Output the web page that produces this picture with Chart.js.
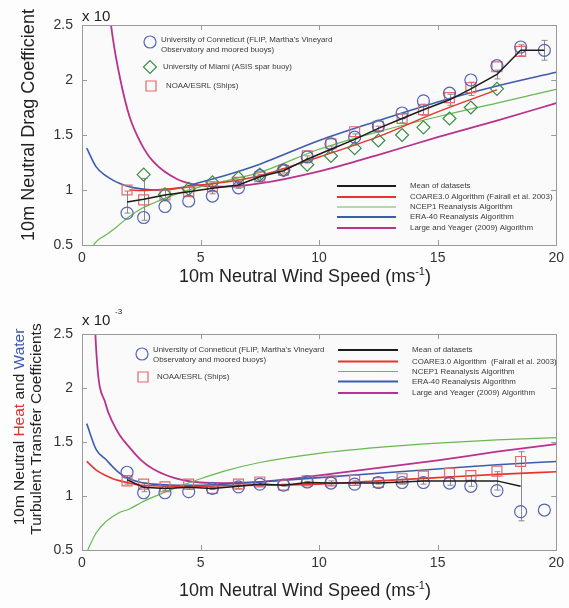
<!DOCTYPE html>
<html>
<head>
<meta charset="utf-8">
<script src="https://cdn.jsdelivr.net/npm/chart.js@4.4.0/dist/chart.umd.min.js"></script>
<style>
body { margin: 0; background: #fdfdfd; }
#wrap { position: relative; width: 569px; height: 608px; }
canvas { position: absolute; left: 0; }
#dragChart { top: 0; }
#heatChart { top: 300px; }
</style>
</head>
<body>
<div id="wrap">
<canvas id="dragChart" width="569" height="300"></canvas>
<canvas id="heatChart" width="569" height="308"></canvas>
</div>
<script>
// wind speed bins of the measured datasets (m/s)
var bins = [1.9, 2.6, 3.5, 4.5, 5.5, 6.6, 7.5, 8.5, 9.5, 10.5, 11.5, 12.5, 13.5, 14.4, 15.5, 16.4, 17.5, 18.5, 19.5];
// wind speeds where the algorithm curves are read
var curveSpeeds = [0.2, 0.6, 1, 1.3, 1.6, 2, 2.5, 3, 4, 5, 6, 7.5, 10, 12.5, 15, 17.5, 20];
var xTicks = [0, 5, 10, 15, 20];
var yTicks = [0.5, 1, 1.5, 2, 2.5];

// drag coefficient (x 10^-3)
var dragUconn = [0.79, 0.75, 0.85, 0.90, 0.945, 1.02, 1.13, 1.18, 1.30, 1.42, 1.48, 1.58, 1.70, 1.81, 1.88, 2.00, 2.13, 2.30, 2.27];
var dragMiami = [null, 1.14, 0.96, 1.01, 1.07, 1.11, 1.14, 1.18, 1.23, 1.31, 1.38, 1.45, 1.50, 1.57, 1.65, 1.75, 1.92, null, null];
var dragNoaa = [1.00, 0.91, 0.955, 0.985, 1.03, 1.07, 1.12, 1.18, 1.31, 1.42, 1.53, 1.58, 1.65, 1.73, 1.84, 1.93, 2.12, 2.26, null];
var dragMean = [0.89, 0.915, 0.955, 0.985, 1.015, 1.045, 1.12, 1.175, 1.28, 1.37, 1.46, 1.56, 1.65, 1.73, 1.82, 1.92, 2.05, 2.27, 2.27];
var dragMeanErr = [0.1, 0.19, 0.05, 0.04, 0.05, 0.03, 0.02, 0.02, 0.03, 0.03, 0.05, 0.02, 0.04, 0.05, 0.05, 0.06, 0.04, 0.05, 0.09];
var dragCoare = [null, null, null, null, null, 1.0, 0.995, 1.0, 1.015, 1.045, 1.07, 1.13, 1.30, 1.485, 1.71, 1.91, null];
var dragNcep = [0.40, 0.53, 0.59, 0.636, 0.69, 0.76, 0.83, 0.88, 0.965, 1.03, 1.08, 1.16, 1.37, 1.53, 1.666, 1.79, 1.915];
var dragEra = [1.38, 1.21, 1.13, 1.09, 1.06, 1.03, 1.01, 1.0, 1.015, 1.07, 1.13, 1.235, 1.45, 1.63, 1.80, 1.945, 2.07];
var dragLy = [null, null, 2.9, 2.38, 2.02, 1.67, 1.42, 1.26, 1.10, 1.04, 1.03, 1.06, 1.17, 1.32, 1.48, 1.63, 1.79];

// heat and water transfer coefficients (x 10^-3)
var heatUconn = [1.22, 1.03, 1.03, 1.04, 1.07, 1.085, 1.11, 1.10, 1.13, 1.12, 1.11, 1.125, 1.125, 1.125, 1.12, 1.09, 1.05, 0.855, 0.87];
var heatNoaa = [1.14, 1.11, 1.085, 1.11, 1.07, 1.11, 1.13, 1.10, 1.14, 1.14, 1.145, 1.125, 1.16, 1.185, 1.21, 1.19, 1.23, 1.32, null];
var heatMean = [1.15, 1.08, 1.07, 1.08, 1.07, 1.09, 1.11, 1.10, 1.125, 1.12, 1.12, 1.12, 1.13, 1.14, 1.14, 1.14, 1.14, 1.09, null];
var heatMeanErr = [0.04, 0.04, 0.02, 0.02, 0.01, 0.02, 0.02, 0.01, 0.01, 0.02, 0.02, 0.01, 0.02, 0.03, 0.04, 0.05, 0.085, 0.32, 0];
var heatCoare = [1.32, 1.24, 1.19, 1.16, 1.14, 1.12, 1.10, 1.095, 1.09, 1.09, 1.095, 1.10, 1.11, 1.14, 1.17, 1.20, 1.225];
var heatNcep = [0.48, 0.66, 0.76, 0.81, 0.85, 0.88, 0.94, 0.99, 1.08, 1.16, 1.23, 1.31, 1.395, 1.45, 1.49, 1.52, 1.54];
var heatEra = [1.67, 1.43, 1.34, 1.27, 1.21, 1.16, 1.125, 1.11, 1.10, 1.10, 1.11, 1.13, 1.17, 1.21, 1.25, 1.29, 1.32];
var heatLy = [4.8, 2.35, 1.85, 1.68, 1.56, 1.45, 1.33, 1.25, 1.16, 1.125, 1.12, 1.13, 1.19, 1.26, 1.33, 1.41, 1.48];

var fontFamily = "'Liberation Sans', Arial, 'DejaVu Sans', sans-serif";
var black = '#1c1c1c', red = '#e8352b', green = '#66b952', blue = '#3d5cb0', magenta = '#b8328e';
var circleColor = '#5565b3', diamondColor = '#3b8d47', squareColor = '#e26a68';

Chart.defaults.font.family = fontFamily;

function points(xs, ys) {
	var out = [];
	for (var i = 0; i < xs.length; i++) out.push({ x: xs[i], y: ys[i] });
	return out;
}

function lineSet(xs, ys, color, width, smooth) {
	return {
		data: points(xs, ys), borderColor: color, borderWidth: width, pointRadius: 0,
		fill: false, tension: 0, cubicInterpolationMode: smooth ? 'monotone' : 'default'
	};
}

function markerSet(ys, style, color, radius) {
	return {
		data: points(bins, ys), showLine: false, pointStyle: style, pointRadius: radius,
		pointBorderColor: color, pointBackgroundColor: 'rgba(0,0,0,0)', pointBorderWidth: 1.2
	};
}

function drawMarker(ctx, style, x, y) {
	ctx.save();
	ctx.lineWidth = 1.2;
	ctx.beginPath();
	if (style === 'circle') {
		ctx.strokeStyle = circleColor;
		ctx.arc(x, y, 6, 0, Math.PI * 2);
	} else if (style === 'diamond') {
		ctx.strokeStyle = diamondColor;
		ctx.moveTo(x - 6.5, y); ctx.lineTo(x, y - 6.5); ctx.lineTo(x + 6.5, y); ctx.lineTo(x, y + 6.5); ctx.closePath();
	} else {
		ctx.strokeStyle = squareColor;
		ctx.rect(x - 5, y - 5, 10, 10);
	}
	ctx.stroke();
	ctx.restore();
}

// text pieces drawn one after another, each with its own colour
function drawPieces(ctx, pieces, cx, cy, rotate) {
	ctx.save();
	ctx.translate(cx, cy);
	if (rotate) ctx.rotate(-Math.PI / 2);
	var total = 0;
	pieces.forEach(function(p) { ctx.font = p.font; total += ctx.measureText(p.text).width; });
	var x = -total / 2;
	ctx.textAlign = 'left';
	ctx.textBaseline = 'alphabetic';
	pieces.forEach(function(p) {
		ctx.font = p.font;
		ctx.fillStyle = p.color || '#222';
		ctx.fillText(p.text, x, p.dy || 0);
		x += ctx.measureText(p.text).width;
	});
	ctx.restore();
}

function decorPlugin(cfg) {
	return {
		id: 'decor',
		beforeDraw: function(chart) {
			var ctx = chart.ctx, a = chart.chartArea;
			ctx.save();
			ctx.fillStyle = '#fafafa';
			ctx.fillRect(a.left, a.top, a.right - a.left, a.bottom - a.top);
			ctx.restore();
		},
		beforeDatasetsDraw: function(chart) {
			// error bars of the mean
			var ctx = chart.ctx, xs = chart.scales.x, ys = chart.scales.y;
			ctx.save();
			ctx.strokeStyle = '#8a8a8a';
			ctx.lineWidth = 1;
			for (var i = 0; i < bins.length; i++) {
				if (cfg.mean[i] === null || !cfg.err[i]) continue;
				var x = Math.round(xs.getPixelForValue(bins[i])) + 0.5;
				var y1 = ys.getPixelForValue(cfg.mean[i] - cfg.err[i]);
				var y2 = ys.getPixelForValue(cfg.mean[i] + cfg.err[i]);
				ctx.beginPath();
				ctx.moveTo(x, y1); ctx.lineTo(x, y2);
				ctx.moveTo(x - 3, y1); ctx.lineTo(x + 3, y1);
				ctx.moveTo(x - 3, y2); ctx.lineTo(x + 3, y2);
				ctx.stroke();
			}
			ctx.restore();
		},
		afterDraw: function(chart) {
			var ctx = chart.ctx, a = chart.chartArea, xs = chart.scales.x, ys = chart.scales.y;
			ctx.save();
			// box and inward ticks
			ctx.strokeStyle = '#9a9a9a';
			ctx.lineWidth = 1;
			ctx.strokeRect(Math.round(a.left) + 0.5, Math.round(a.top) + 0.5, Math.round(a.right - a.left), Math.round(a.bottom - a.top));
			ctx.beginPath();
			xTicks.forEach(function(v) {
				var x = Math.round(xs.getPixelForValue(v)) + 0.5;
				ctx.moveTo(x, a.bottom); ctx.lineTo(x, a.bottom - 5);
				ctx.moveTo(x, a.top); ctx.lineTo(x, a.top + 5);
			});
			yTicks.forEach(function(v) {
				var y = Math.round(ys.getPixelForValue(v)) + 0.5;
				ctx.moveTo(a.left, y); ctx.lineTo(a.left + 5, y);
				ctx.moveTo(a.right, y); ctx.lineTo(a.right - 5, y);
			});
			ctx.stroke();

			// exponent label
			ctx.fillStyle = '#222';
			ctx.font = '15px ' + fontFamily;
			ctx.textAlign = 'left';
			ctx.textBaseline = 'alphabetic';
			ctx.fillText('x 10', 82, cfg.expY);
			if (cfg.expSup) {
				ctx.font = '8px ' + fontFamily;
				ctx.fillText(cfg.expSup, 82 + 33, cfg.expY - 11);
			}

			// axis titles
			var big = '18px ' + fontFamily, small = '11px ' + fontFamily;
			drawPieces(ctx, [
				{ text: '10m Neutral Wind Speed (ms', font: big },
				{ text: '-1', font: small, dy: -7 },
				{ text: ')', font: big }
			], 305, cfg.xTitleY, false);
			cfg.yTitle.forEach(function(line) {
				drawPieces(ctx, line.pieces, line.x, line.y, true);
			});

			// legends
			ctx.font = '7.9px ' + fontFamily;
			ctx.fillStyle = '#3a3a3a';
			ctx.textBaseline = 'middle';
			ctx.textAlign = 'left';
			cfg.markers.forEach(function(m) {
				drawMarker(ctx, m.style, m.x, m.y);
				m.lines.forEach(function(t, k) {
					ctx.fillText(t, m.tx, m.ty + k * 9.5);
				});
			});
			cfg.lineKeys.forEach(function(k) {
				ctx.strokeStyle = k.color;
				ctx.lineWidth = k.width;
				ctx.beginPath();
				ctx.moveTo(cfg.keyX1, k.y); ctx.lineTo(cfg.keyX2, k.y);
				ctx.stroke();
				ctx.fillText(k.text, cfg.keyTextX, k.y);
			});
			ctx.restore();
		}
	};
}

function scaleOptions(axisHeight) {
	var tickFont = { family: fontFamily, size: 14 };
	return {
		x: {
			type: 'linear', min: 0, max: 20,
			afterBuildTicks: function(s) { s.ticks = xTicks.map(function(v) { return { value: v }; }); },
			afterFit: function(s) { s.height = axisHeight; },
			grid: { display: false, drawTicks: false }, border: { display: false },
			ticks: { color: '#333', font: tickFont, padding: 5, maxRotation: 0, callback: function(v) { return String(v); } }
		},
		y: {
			min: 0.5, max: 2.5,
			afterBuildTicks: function(s) { s.ticks = yTicks.map(function(v) { return { value: v }; }); },
			afterFit: function(s) { s.width = 82; },
			grid: { display: false, drawTicks: false }, border: { display: false },
			ticks: { color: '#333', font: tickFont, padding: 9, callback: function(v) { return String(v); } }
		}
	};
}

var algoNames = ['Mean of datasets', 'COARE3.0 Algorithm (Fairall et al. 2003)', 'NCEP1 Reanalysis Algorithm',
	'ERA-40 Reanalysis Algorithm', 'Large and Yeager (2009) Algorithm'];
var algoColors = [black, red, green, blue, magenta];
var algoWidths = [2, 2, 1, 2, 2];

function lineKeys(ys, names) {
	return ys.map(function(y, i) { return { y: y, text: names[i], color: algoColors[i], width: algoWidths[i] }; });
}

// top panel: drag coefficient
new Chart(document.getElementById('dragChart').getContext('2d'), {
	type: 'line',
	data: {
		datasets: [
			lineSet(bins, dragMean, black, 1.5, false),
			markerSet(dragUconn, 'circle', circleColor, 6),
			markerSet(dragMiami, 'rectRot', diamondColor, 6.5),
			markerSet(dragNoaa, 'rect', squareColor, 7),
			lineSet(curveSpeeds, dragCoare, red, 1.5, true),
			lineSet(curveSpeeds, dragNcep, green, 1.2, true),
			lineSet(curveSpeeds, dragEra, blue, 1.6, true),
			lineSet(curveSpeeds, dragLy, magenta, 1.8, true)
		]
	},
	options: {
		responsive: false, animation: false, events: [],
		layout: { padding: { top: 25, right: 9, left: 0, bottom: 0 } },
		plugins: { legend: { display: false }, tooltip: { enabled: false } },
		scales: scaleOptions(55)
	},
	plugins: [decorPlugin({
		mean: dragMean, err: dragMeanErr, expY: 21, expSup: null, xTitleY: 282,
		yTitle: [{ x: 34, y: 125, pieces: [{ text: '10m Neutral Drag Coefficient', font: '18px ' + fontFamily }] }],
		markers: [
			{ style: 'circle', x: 150, y: 42, tx: 161, ty: 40, lines: ["University of Conneticut (FLIP, Martha's Vineyard", 'Observatory and moored buoys)'] },
			{ style: 'diamond', x: 150, y: 67, tx: 163, ty: 67, lines: ['University of Miami (ASIS spar buoy)'] },
			{ style: 'square', x: 151, y: 86, tx: 166, ty: 86, lines: ['NOAA/ESRL (Ships)'] }
		],
		keyX1: 337, keyX2: 396, keyTextX: 410,
		lineKeys: lineKeys([186, 197, 207, 217, 228], algoNames)
	})]
});

// bottom panel: heat and water transfer coefficients
var heatNames = algoNames.slice();
heatNames[1] = 'COARE3.0 Algorithm  (Fairall et al. 2003)';
var titleFont = '15.5px ' + fontFamily;

new Chart(document.getElementById('heatChart').getContext('2d'), {
	type: 'line',
	data: {
		datasets: [
			lineSet(bins, heatMean, black, 1.5, false),
			markerSet(heatUconn, 'circle', circleColor, 6),
			markerSet(heatNoaa, 'rect', squareColor, 7),
			lineSet(curveSpeeds, heatCoare, red, 1.6, true),
			lineSet(curveSpeeds, heatNcep, green, 1.2, true),
			lineSet(curveSpeeds, heatEra, blue, 1.6, true),
			lineSet(curveSpeeds, heatLy, magenta, 1.8, true)
		]
	},
	options: {
		responsive: false, animation: false, events: [],
		layout: { padding: { top: 34, right: 9, left: 0, bottom: 0 } },
		plugins: { legend: { display: false }, tooltip: { enabled: false } },
		scales: scaleOptions(58)
	},
	plugins: [decorPlugin({
		mean: heatMean, err: heatMeanErr, expY: 25, expSup: '-3', xTitleY: 296,
		yTitle: [
			{ x: 24, y: 127, pieces: [
				{ text: '10m Neutral ', font: titleFont },
				{ text: 'Heat', font: titleFont, color: '#e0302a' },
				{ text: ' and ', font: titleFont },
				{ text: 'Water', font: titleFont, color: '#3a55b0' }
			] },
			{ x: 41, y: 129, pieces: [{ text: 'Turbulent Transfer Coefficients', font: titleFont }] }
		],
		markers: [
			{ style: 'circle', x: 142, y: 54, tx: 153, ty: 50, lines: ["University of Conneticut (FLIP, Martha's Vineyard", 'Observatory and moored buoys)'] },
			{ style: 'square', x: 143, y: 77, tx: 157, ty: 77, lines: ['NOAA/ESRL (Ships)'] }
		],
		keyX1: 338, keyX2: 398, keyTextX: 412,
		lineKeys: lineKeys([50, 61.5, 71.5, 81.5, 93], heatNames)
	})]
});
</script>
</body>
</html>
